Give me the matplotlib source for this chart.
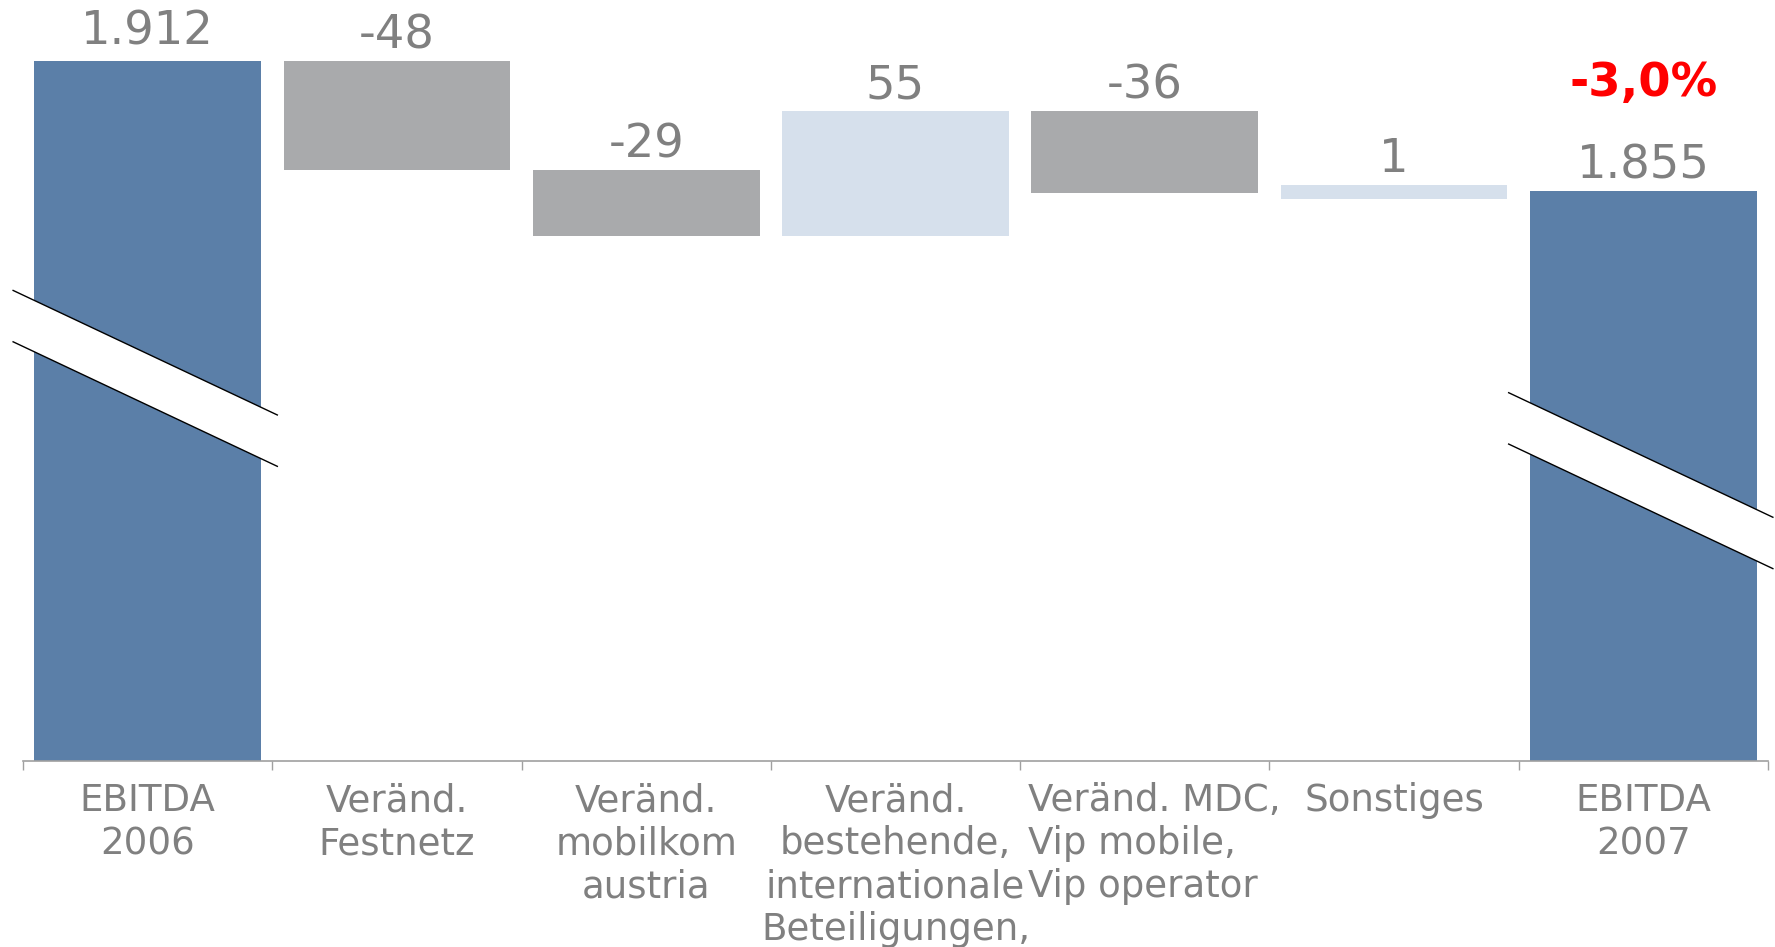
import numpy as np
import matplotlib
matplotlib.use("Agg")
import matplotlib.pyplot as plt

# --- data -----------------------------------------------------------------
categories = [
    "EBITDA\n2006",
    "Veränd.\nFestnetz",
    "Veränd.\nmobilkom\naustria",
    "Veränd.\nbestehende,\ninternationale\nBeteiligungen,",
    "Veränd. MDC,\nVip mobile,\nVip operator",
    "Sonstiges",
    "EBITDA\n2007",
]
start_value = 1912
changes = [-48, -29, 55, -36, 1]
end_value = 1855
change_pct = "-3,0%"

# --- style ----------------------------------------------------------------
DARK_BLUE = "#5b7fa8"
GREY = "#a9aaac"
LIGHT_BLUE = "#d6e0ec"
TEXT_GREY = "#808080"
AXIS_GREY = "#a0a0a0"

axis_floor = 1604   # truncated y axis starts here
y_top = 1939
bar_width = 0.91
min_bar = 6.5       # smallest drawn height for a change bar

plt.rcParams['font.family'] = ['DejaVu Sans']


def fmt(v):
    return f"{v:,}".replace(",", ".")


def draw_break(ax, x, center, gap=11.3, slope=-51.7, left=0.54, right=0.52):
    xs = np.array([x - left, x + right])
    upper = center + gap + slope * (xs - x)
    lower = center - gap + slope * (xs - x)
    ax.fill([xs[0], xs[1], xs[1], xs[0]], [upper[0], upper[1], lower[1], lower[0]],
            color="white", zorder=3, clip_on=False, lw=0)
    ax.plot(xs, upper, color="black", lw=1.0, zorder=4, clip_on=False)
    ax.plot(xs, lower, color="black", lw=1.0, zorder=4, clip_on=False)


levels = start_value + np.cumsum(changes)
prev = np.concatenate([[start_value], levels[:-1]])

fig = plt.figure(figsize=(17.75, 9.47), dpi=100)
ax = fig.add_axes([0.013, 0.196, 0.983, 0.804])

# totals
x_start, x_end = 0, len(categories) - 1
ax.bar(x_start, start_value - axis_floor, bottom=axis_floor, width=bar_width, color=DARK_BLUE, zorder=2)
ax.bar(x_end, end_value - axis_floor, bottom=axis_floor, width=bar_width, color=DARK_BLUE, zorder=2)

# changes
for i, (p, c) in enumerate(zip(prev, changes), start=1):
    lo, hi = min(p, p + c), max(p, p + c)
    if hi - lo < min_bar:
        mid = (lo + hi) / 2
        lo, hi = mid - min_bar / 2, mid + min_bar / 2
    color = GREY if c < 0 else LIGHT_BLUE
    ax.bar(i, hi - lo, bottom=lo, width=bar_width, color=color, zorder=2)
    ax.annotate(str(c), xy=(i, hi), xytext=(0, 9), textcoords="offset points",
                ha="center", va="baseline", fontsize=33.5, color=TEXT_GREY)

ax.annotate(fmt(start_value), xy=(x_start, start_value), xytext=(0, 12), textcoords="offset points",
            ha="center", va="baseline", fontsize=33.5, color=TEXT_GREY)
ax.annotate(fmt(end_value), xy=(x_end, end_value), xytext=(0, 9), textcoords="offset points",
            ha="center", va="baseline", fontsize=33.5, color=TEXT_GREY)
ax.annotate(change_pct, xy=(x_end, end_value), xytext=(0, 68), textcoords="offset points",
            ha="center", va="baseline", fontsize=33.5, color="#ff0000", fontweight="bold")

# axis breaks
draw_break(ax, x_start, 1772)
draw_break(ax, x_end, 1727)

# category labels
for i, lab in enumerate(categories):
    if i == 4:
        ax.annotate(lab, xy=(i - 0.5, 0), xycoords=("data", "axes fraction"),
                    xytext=(6, -15), textcoords="offset points", ha="left", va="top",
                    multialignment="left", linespacing=1.21, fontsize=26.7, color=TEXT_GREY,
                    annotation_clip=False)
    else:
        ax.annotate(lab, xy=(i, 0), xycoords=("data", "axes fraction"),
                    xytext=(0, -15), textcoords="offset points", ha="center", va="top",
                    multialignment="center", linespacing=1.21, fontsize=26.7, color=TEXT_GREY,
                    annotation_clip=False)

ax.set_xlim(-0.5, len(categories) - 0.5)
ax.set_ylim(axis_floor, y_top)
for side in ["top", "left", "right"]:
    ax.spines[side].set_visible(False)
ax.spines["bottom"].set_color(AXIS_GREY)
ax.spines["bottom"].set_linewidth(1.2)
ax.set_yticks([])
ax.set_xticks([])
ax.set_xticks(np.arange(-0.5, len(categories)), minor=True)
ax.tick_params(axis="x", which="minor", direction="out", length=6.5, width=1, color=AXIS_GREY,
               labelbottom=False)

fig.savefig("out.png", dpi=100)
